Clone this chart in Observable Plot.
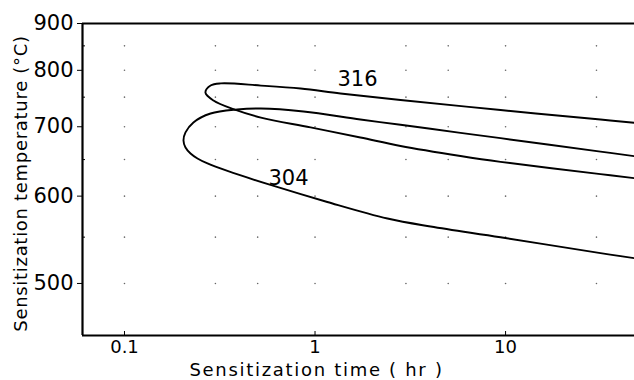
<!DOCTYPE html>
<html><head><meta charset="utf-8">
<script src="https://cdn.jsdelivr.net/npm/d3@7"></script>
<script src="https://cdn.jsdelivr.net/npm/@observablehq/plot@0.6"></script>
<style>html,body{margin:0;padding:0;background:#fff} svg{display:block}</style>
</head><body><div id="chart"></div>
<script>
// Sensitization (TTS) curves: time in hr, temperature in °C
const time316 = [47.5, 31.5, 9.41, 2.81, 1.36, 0.84, 0.52, 0.32, 0.283, 0.266, 0.293, 0.373, 0.52, 0.947, 1.73, 2.81, 5.8, 9.41, 31.5, 47.5];
const temp316 = [706.4, 711.7, 727.6, 745.0, 756.6, 765.6, 771, 775, 771, 758, 744, 729, 715, 699, 683, 670.1, 655.2, 646.7, 629.5, 623.9];
const time304 = [47.5, 31.5, 9.41, 5.8, 2.81, 1.73, 0.87, 0.52, 0.39, 0.283, 0.23, 0.209, 0.204, 0.209, 0.2221, 0.2416, 0.2727, 0.347, 0.584, 1.16, 2.40, 4.04, 9.41, 31.5, 47.5];
const temp304 = [654.9, 661.7, 682.0, 690.3, 703.2, 711.8, 725.2, 730.3, 728.6, 721.8, 707, 691, 678.5, 667.8, 658.9, 651.6, 644.4, 633.8, 614.7, 592.5, 572, 562.4, 549.9, 532.0, 526.5];
const curveNames = ["316", "304"];
const labelTimes = [1.67, 0.726];
const labelTemps = [782, 623.5];
const xTicks = [0.1, 1, 10];
const yTicks = [500, 600, 700, 800, 900];
const yMinorTicks = [550, 650, 750, 850];
const gridTimes = [0.1, 0.3, 0.5, 1, 3, 5, 10, 30];
const gridTemps = [500, 550, 600, 650, 700, 750, 800, 850];
const timeDomain = [0.0602, 47.5];
const tempDomain = [450.6, 900];
const xTitle = "Sensitization time ( hr )";
const yTitle = "Sensitization temperature (°C)";

// temperature axis is linear in reciprocal absolute temperature
const inv = T => 1 / (T + 273);
const rows = (times, temps) => times.map((t, i) => ({time: t, temp: temps[i]}));
const curves = [rows(time316, temp316), rows(time304, temp304)];
const labels = curveNames.map((n, i) => ({name: n, time: labelTimes[i], temp: labelTemps[i]}));
const grid = gridTimes.flatMap(t => gridTemps.map(T => ({time: t, temp: T})));

const chart = Plot.plot({
  width: 634, height: 380,
  marginLeft: 82, marginTop: 23, marginRight: 0, marginBottom: 45,
  style: {fontFamily: "'DejaVu Sans', sans-serif", color: "#000", background: "#fff"},
  x: {type: "log", domain: timeDomain},
  y: {type: "linear", domain: tempDomain.map(inv)},
  marks: [
    Plot.dot(grid, {x: "time", y: d => inv(d.temp), r: 0.8, fill: "#666", stroke: null}),
    Plot.ruleY([tempDomain[1]], {y: inv, stroke: "#000", strokeWidth: 2.2}),
    Plot.ruleY([tempDomain[0]], {y: inv, stroke: "#000", strokeWidth: 2.2}),
    Plot.ruleX([timeDomain[0]], {stroke: "#000", strokeWidth: 2.2}),
    Plot.axisY({ticks: yTicks.map(inv), tickSize: 5, tickPadding: 4, tickFormat: d => Math.round(1 / d - 273), fontSize: 21, label: null}),
    Plot.axisY({ticks: yMinorTicks.map(inv), tickSize: -3, fill: "none", label: null}),
    Plot.axisX({ticks: xTicks, tickSize: 0, tickPadding: 5, tickFormat: d => String(d), fontSize: 18, label: null}),
    Plot.axisX({ticks: xTicks, tickSize: -4, fill: "none", label: null}),
    ...curves.map(c => Plot.line(c, {x: "time", y: d => inv(d.temp), stroke: "#000", strokeWidth: 1.9, curve: "catmull-rom"})),
    Plot.text(labels, {x: "time", y: d => inv(d.temp), text: "name", fontSize: 21}),
    Plot.text([xTitle], {frameAnchor: "bottom", textAnchor: "middle", lineAnchor: "middle", dx: -42, dy: 35, fontSize: 18}),
    Plot.text([yTitle], {frameAnchor: "left", textAnchor: "middle", lineAnchor: "middle", rotate: -90, dx: -61, dy: 4, fontSize: 18})
  ]
});
d3.select(chart).selectAll("text").filter(function() { return this.textContent === xTitle; }).attr("letter-spacing", 1.7);
d3.select(chart).selectAll("text").filter(function() { return this.textContent === yTitle; }).attr("letter-spacing", 0.7);
document.getElementById("chart").append(chart);
</script>
</body></html>
